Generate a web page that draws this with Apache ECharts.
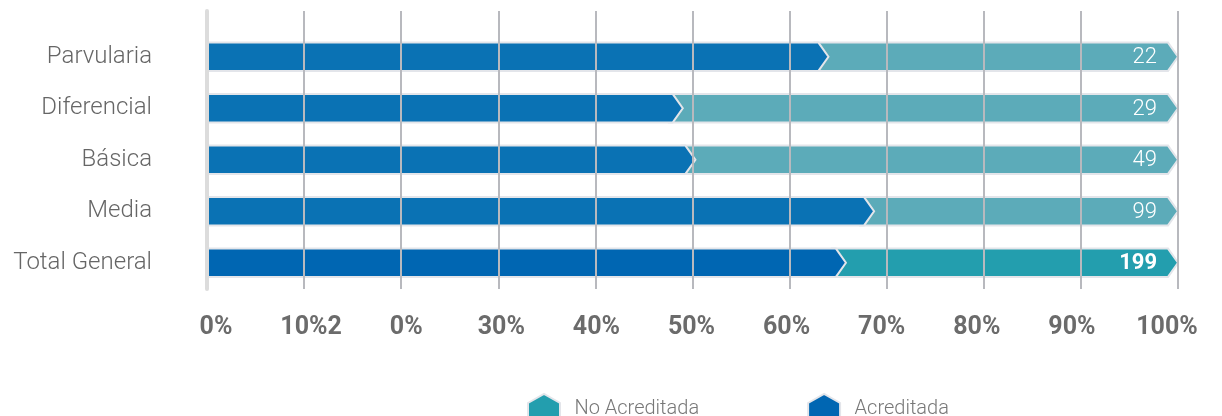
<!DOCTYPE html>
<html>
<head>
<meta charset="utf-8">
<script src="https://cdn.jsdelivr.net/npm/echarts@6/dist/echarts.min.js"></script>
<style>
  html, body { margin: 0; padding: 0; background: #fff; }
  #chart { width: 1222px; height: 416px; }
</style>
</head>
<body>
<div id="chart"></div>
<script>
// categorías (de arriba a abajo)
var categories = ['Parvularia', 'Diferencial', 'Básica', 'Media', 'Total General'];
// % acreditada / no acreditada por nivel
var acreditada = [64.0, 49.0, 50.3, 68.7, 65.8];
var noAcreditada = [36.0, 51.0, 49.7, 31.3, 34.2];
// total de establecimientos (etiqueta al final de la barra)
var totales = [22, 29, 49, 99, 199];
// etiquetas del eje tal como aparecen
var tickLabels = ['0%', '10%2', '0%', '30%', '40%', '50%', '60%', '70%', '80%', '90%', '100%'];

var FONT = 'Roboto, "Noto Sans", sans-serif';
var TIP = 10;        // profundidad de la punta de flecha
var BAR_FRAC = 0.55; // alto de barra respecto a la banda
var OUTLINE = '#e3e5ea';

function isTotal(i) { return i === categories.length - 1; }

// segmento "No Acreditada": desde el final de acreditada hasta el 100%
function renderNoAcred(params, api) {
  var i = api.value(0);
  var a = api.value(1);
  var n = api.value(2);
  var p0 = api.coord([a, i]);
  var p1 = api.coord([a + n, i]);
  var h = api.size([0, 1])[1] * BAR_FRAC;
  var top = p0[1] - h / 2, bot = p0[1] + h / 2, mid = p0[1];
  var x0 = p0[0] - TIP - 4;
  var color = isTotal(i) ? '#239eae' : '#5cabb9';
  return {
    type: 'group',
    children: [{
      type: 'polygon',
      shape: { points: [[x0, top], [p1[0] - TIP, top], [p1[0], mid], [p1[0] - TIP, bot], [x0, bot]] },
      style: { fill: color, stroke: OUTLINE, lineWidth: 2 }
    }, {
      type: 'text',
      z2: 10,
      style: {
        text: String(totales[i]),
        x: p1[0] - 21,
        y: mid + 1,
        align: 'right',
        verticalAlign: 'middle',
        fill: '#ffffff',
        fontSize: 22,
        fontFamily: FONT,
        fontWeight: isTotal(i) ? 'bold' : 300
      }
    }]
  };
}

// segmento "Acreditada": desde 0 hasta su valor, con punta
function renderAcred(params, api) {
  var i = api.value(0);
  var v = api.value(1);
  var p0 = api.coord([0, i]);
  var p1 = api.coord([v, i]);
  var h = api.size([0, 1])[1] * BAR_FRAC;
  var top = p0[1] - h / 2, bot = p0[1] + h / 2, mid = p0[1];
  var color = isTotal(i) ? '#0066b2' : '#0a72b4';
  return {
    type: 'polygon',
    shape: { points: [[p0[0], top], [p1[0] - TIP, top], [p1[0], mid], [p1[0] - TIP, bot], [p0[0], bot]] },
    style: { fill: color, stroke: OUTLINE, lineWidth: 2 }
  };
}

var chart = echarts.init(document.getElementById('chart'));
chart.setOption({
  animation: false,
  textStyle: { fontFamily: FONT },
  legend: {
    data: ['No Acreditada', 'Acreditada'],
    left: 522,
    top: 388,
    itemWidth: 33,
    itemHeight: 30,
    itemGap: 108,
    icon: 'path://M0,9 L16,0 L32,9 L32,30 L0,30 Z',
    itemStyle: { borderColor: OUTLINE, borderWidth: 2 },
    textStyle: { fontSize: 20, color: '#777', fontWeight: 300, fontFamily: FONT, padding: [0, 0, 0, 9] }
  },
  grid: [
    { left: 207, right: 44, top: 31, height: 257.5 },  // barras
    { left: 207, right: 44, top: 11, height: 278 },    // rejilla
    { left: 216, right: 55, top: 11, height: 278 }     // etiquetas del eje
  ],
  xAxis: [
    { gridIndex: 0, type: 'value', min: 0, max: 100, show: false },
    {
      gridIndex: 1, type: 'value', min: 0, max: 100, interval: 10, z: 10,
      axisLine: { show: false }, axisTick: { show: false }, axisLabel: { show: false },
      splitLine: { show: true, showMinLine: false, lineStyle: { color: '#b8b9be', width: 2 } }
    },
    {
      gridIndex: 2, type: 'value', min: 0, max: 100, interval: 10,
      axisLine: { show: false }, axisTick: { show: false }, splitLine: { show: false },
      axisLabel: {
        margin: 26,
        showMinLabel: true,
        showMaxLabel: true,
        color: '#6b6b6b',
        fontSize: 25,
        fontWeight: 'bold',
        fontFamily: FONT,
        formatter: function (v) { return tickLabels[Math.round(v / 10)]; }
      }
    }
  ],
  yAxis: [
    {
      gridIndex: 0, type: 'category', data: categories, inverse: true,
      axisLine: { show: false }, axisTick: { show: false }, splitLine: { show: false },
      axisLabel: { margin: 55, color: '#666', fontSize: 24, fontWeight: 300, fontFamily: FONT }
    },
    {
      gridIndex: 1, type: 'value', z: 10,
      axisLine: { show: true, lineStyle: { color: '#dcdcdc', width: 4 } },
      axisTick: { show: false }, axisLabel: { show: false }, splitLine: { show: false }
    },
    { gridIndex: 2, type: 'value', show: false }
  ],
  series: [
    {
      name: 'No Acreditada',
      type: 'custom',
      xAxisIndex: 0, yAxisIndex: 0,
      itemStyle: { color: '#239eae' },
      renderItem: renderNoAcred,
      encode: { y: 0, x: 2 },
      data: categories.map(function (c, i) { return [i, acreditada[i], noAcreditada[i]]; })
    },
    {
      name: 'Acreditada',
      type: 'custom',
      xAxisIndex: 0, yAxisIndex: 0,
      itemStyle: { color: '#0066b2' },
      renderItem: renderAcred,
      encode: { y: 0, x: 1 },
      data: categories.map(function (c, i) { return [i, acreditada[i]]; })
    }
  ]
});
</script>
</body>
</html>
